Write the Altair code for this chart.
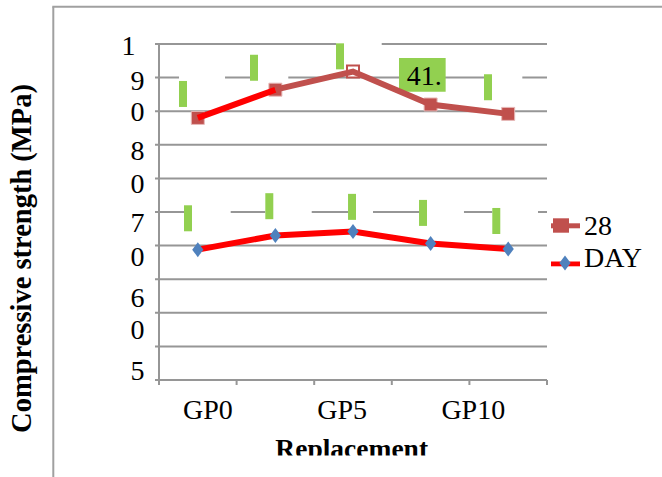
import altair as alt
import pandas as pd

# Compressive strength (MPa) of each mix at the two curing ages
groups = ["GP0", "GP2.5", "GP5", "GP7.5", "GP10"]
strength_28 = [39.0, 43.2, 45.9, 41.0, 39.6]
strength_7 = [19.4, 21.5, 22.1, 20.3, 19.5]
legend_names = ["28", "DAY"]

# value-axis gridlines (MPa) and category boundaries
y_grid_values = [0, 5, 10, 15, 20, 25, 30, 35, 40, 45, 50]
x_tick_values = [0, 1, 2, 3, 4, 5]

# category-axis captions and where they sit (category units)
x_caption_text = ["GP0", "GP5", "GP10"]
x_caption_pos = [0.63, 2.36, 4.05]

# wrapped value-axis captions and their heights (MPa)
y_caption_text = ["1", "9", "0", "8", "0", "7", "0", "6", "0", "5"]
y_caption_pos = [49.6, 44.4, 39.7, 34.0, 29.0, 23.2, 18.1, 12.0, 7.3, 1.2]

# data-label boxes above the 28-day points: left / right edge (category units), top (MPa)
lbl28_left = [0.258, 1.173, 2.281, 4.188]
lbl28_right = [0.851, 1.666, 2.870, 4.682]
lbl28_top = [44.5, 48.4, 50.1, 45.5]
# data-label boxes above the 7-day points
lbl7_left = [0.322, 1.370, 2.436, 3.351, 4.295]
lbl7_right = [0.924, 1.968, 2.758, 3.930, 4.884]
lbl7_top = [26.0, 27.8, 27.7, 26.8, 25.6]
# the one label whose value shows (GP7.5, 28 days)
value_lbl_left = [3.093]
value_lbl_right = [3.694]
value_lbl_top = [47.9]
value_lbl_bottom = [42.9]

# ---- layout / style ----
W, H = 388, 336
X0, Y0 = 159, 44          # plot origin on the page
FONT = "Liberation Serif"
LABEL_SIZE = 28
GRID = "#969696"
RED_BROWN = "#C0504D"
RED = "#FF0000"
BLUE = "#4F81BD"
GREEN = "#92D050"
LABEL_H = 3.87            # label height in MPa
STRIP_W = 0.103           # green strip width in category units
DIAMOND = "M0,-1L0.75,0L0,1L-0.75,0Z"

xs = alt.Scale(domain=[0, 5], nice=False, zero=False)
ys = alt.Scale(domain=[0, 50], nice=False, zero=False)


def X(field):
    return alt.X(field, type="quantitative", scale=xs, axis=None)


def Y(field):
    return alt.Y(field, type="quantitative", scale=ys, axis=None)


def px(vx):
    return alt.value(vx - X0)


def py(vy):
    return alt.value(vy - Y0)


pts = pd.DataFrame({
    "pos": [i + 0.5 for i in range(len(groups))],
    "group": groups,
    "s28": strength_28,
    "s7": strength_7,
})

one = pd.DataFrame({"k": [0]})

# gridlines with their short outside ticks, the value axis line and category ticks
grid = alt.Chart(pd.DataFrame({"g": y_grid_values})).mark_rule(
    color=GRID, strokeWidth=2
).encode(x=alt.value(-4), x2=alt.value(W), y=Y("g:Q"))
y_axis_line = alt.Chart(one).mark_rule(color=GRID, strokeWidth=2).encode(
    x=alt.value(0), y=alt.value(0), y2=alt.value(H)
)
x_ticks = alt.Chart(pd.DataFrame({"t": x_tick_values})).mark_rule(
    color=GRID, strokeWidth=2
).encode(x=X("t:Q"), y=alt.value(H), y2=alt.value(H + 5))

boxes = pd.DataFrame({
    "l": lbl28_left + lbl7_left,
    "r": lbl28_right + lbl7_right,
    "t": lbl28_top + lbl7_top,
})
boxes["wt"] = boxes["t"] + 0.8
boxes["wb"] = boxes["t"] - LABEL_H - 0.3
boxes["gr"] = boxes["l"] + STRIP_W
boxes["gb"] = boxes["t"] - LABEL_H

# white label backgrounds interrupt the gridlines
white_boxes = alt.Chart(boxes).mark_rect(fill="white").encode(
    x=X("l:Q"), x2="r", y=Y("wb:Q"), y2="wt"
)
green_strips = alt.Chart(boxes).mark_rect(fill=GREEN).encode(
    x=X("l:Q"), x2="gr", y=Y("gb:Q"), y2="t"
)

vl = pd.DataFrame({
    "l": value_lbl_left, "r": value_lbl_right,
    "t": value_lbl_top, "b": value_lbl_bottom,
    # the label box is too narrow for the full number, so only "41." shows
    "txt": [f"{strength_28[3]:.1f}"[:3]],
})
vl["tx"] = vl["l"] + 0.1
vl["ty"] = (vl["t"] + vl["b"]) / 2 - 0.3
value_box = alt.Chart(vl).mark_rect(fill=GREEN).encode(
    x=X("l:Q"), x2="r", y=Y("b:Q"), y2="t"
)
value_text = alt.Chart(vl).mark_text(
    align="left", baseline="middle", font=FONT, fontSize=LABEL_SIZE, color="black"
).encode(x=X("tx:Q"), y=Y("ty:Q"), text="txt:N")

# 28-day series: first segment drawn red, the rest red-brown
seg_rows = []
for i in range(0, 2):
    seg_rows.append({"pos": i + 0.5, "v": strength_28[i], "seg": "a"})
for i in range(1, 5):
    seg_rows.append({"pos": i + 0.5, "v": strength_28[i], "seg": "b"})
segs = pd.DataFrame(seg_rows)

marks28 = alt.Chart(pts.drop(index=2)).mark_point(
    shape="square", filled=True, size=169, color=RED_BROWN, opacity=1,
    stroke="#E6B9B8", strokeWidth=1
).encode(x=X("pos:Q"), y=Y("s28:Q"))
hollow28 = alt.Chart(pts.iloc[[2]]).mark_point(
    shape="square", filled=False, size=144, fill="white", stroke=RED_BROWN,
    strokeWidth=2, opacity=1
).encode(x=X("pos:Q"), y=Y("s28:Q"))
line28 = alt.Chart(segs).mark_line(strokeWidth=6).encode(
    x=X("pos:Q"), y=Y("v:Q"),
    color=alt.Color("seg:N", scale=alt.Scale(domain=["a", "b"], range=[RED, RED_BROWN]), legend=None),
    detail="seg:N",
)

line7 = alt.Chart(pts).mark_line(color=RED, strokeWidth=6).encode(
    x=X("pos:Q"), y=Y("s7:Q")
)
marks7 = alt.Chart(pts).mark_point(
    shape=DIAMOND, filled=True, size=225, color=BLUE, opacity=1
).encode(x=X("pos:Q"), y=Y("s7:Q"))

# axis captions
ycap = pd.DataFrame({"txt": y_caption_text, "pos": y_caption_pos})
ycap_top = alt.Chart(ycap.iloc[[0]]).mark_text(
    align="center", baseline="middle", font=FONT, fontSize=LABEL_SIZE, color="black"
).encode(x=px(128.5), y=Y("pos:Q"), text="txt:N")
ycap_rest = alt.Chart(ycap.iloc[1:]).mark_text(
    align="right", baseline="middle", font=FONT, fontSize=LABEL_SIZE, color="black"
).encode(x=px(144.5), y=Y("pos:Q"), text="txt:N")

xcap = pd.DataFrame({"txt": x_caption_text, "pos": x_caption_pos})
xcap_text = alt.Chart(xcap).mark_text(
    align="center", baseline="middle", font=FONT, fontSize=LABEL_SIZE, color="black"
).encode(x=X("pos:Q"), y=py(410.7), text="txt:N")

y_title = alt.Chart(one).mark_text(
    text="Compressive strength (MPa)", angle=270, align="center",
    baseline="alphabetic", font=FONT, fontSize=28.5, fontWeight="bold", color="black"
).encode(x=px(31), y=py(258.5))
x_title = alt.Chart(one).mark_text(
    text="Replacement", align="center", baseline="alphabetic",
    font=FONT, fontSize=27.5, fontWeight="bold", color="black"
).encode(x=px(351.7), y=py(458))
# the chart area ends here, trimming the foot of the axis title
x_title_cut = alt.Chart(one).mark_rect(fill="white").encode(
    x=px(60), x2=px(662), y=py(455.5), y2=py(480)
)

# chart-area frame (left and top edges)
frame_left = alt.Chart(one).mark_rule(color="#A0A0A0", strokeWidth=2).encode(
    x=px(53.3), y=py(6.7), y2=py(480)
)
frame_top = alt.Chart(one).mark_rule(color="#A0A0A0", strokeWidth=2).encode(
    x=px(52.3), x2=px(662), y=py(6.7)
)

# legend
leg28_line = alt.Chart(one).mark_rect(fill=RED_BROWN).encode(
    x=px(551), x2=px(580), y=py(223.3), y2=py(228.3)
)
leg28_box = alt.Chart(one).mark_rect(fill=RED_BROWN).encode(
    x=px(553), x2=px(569), y=py(218.3), y2=py(232.7)
)
leg7_line = alt.Chart(one).mark_rect(fill=RED).encode(
    x=px(551), x2=px(580), y=py(261.5), y2=py(266.3)
)
leg7_mark = alt.Chart(one).mark_point(
    shape=DIAMOND, filled=True, size=225, color=BLUE, opacity=1
).encode(x=px(565), y=py(263))
leg28_text = alt.Chart(one).mark_text(
    text=legend_names[0], align="left", baseline="middle", font=FONT,
    fontSize=LABEL_SIZE, color="black"
).encode(x=px(584), y=py(227.3))
leg7_text = alt.Chart(one).mark_text(
    text=legend_names[1], align="left", baseline="middle", font=FONT,
    fontSize=LABEL_SIZE, color="black"
).encode(x=px(584), y=py(259))

chart = alt.layer(
    grid, y_axis_line, x_ticks,
    white_boxes, green_strips, value_box, value_text,
    marks28, hollow28, line28, line7, marks7,
    ycap_top, ycap_rest, xcap_text,
    y_title, x_title, x_title_cut, frame_left, frame_top,
    leg28_line, leg28_box, leg7_line, leg7_mark, leg28_text, leg7_text,
).properties(
    width=W, height=H,
    autosize=alt.AutoSizeParams(type="none"),
    padding={"left": X0, "top": Y0, "right": 662 - X0 - W, "bottom": 477 - Y0 - H},
).configure_view(stroke=None)

chart.save("out.html", embed_options={"renderer": "svg", "actions": False})
